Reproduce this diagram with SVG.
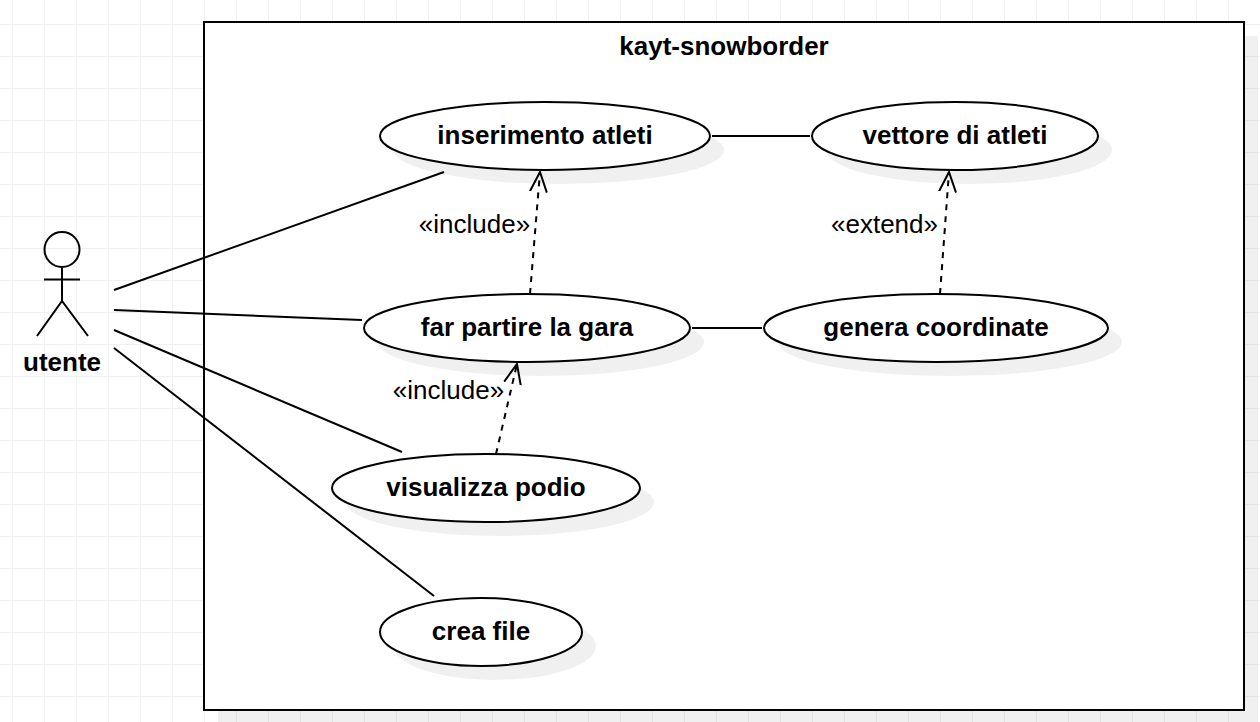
<svg xmlns="http://www.w3.org/2000/svg" width="1260" height="722" viewBox="0 0 1260 722">
  <defs>
    <pattern id="grid" width="32" height="32" patternUnits="userSpaceOnUse" x="12" y="24">
      <path d="M0.5 0V32M0 0.5H32" fill="none" stroke="#f0f0f0" stroke-width="1"/>
    </pattern>
    <marker id="open" markerUnits="userSpaceOnUse" viewBox="0 0 24 24" refX="20" refY="12" markerWidth="24" markerHeight="24" orient="auto">
      <path d="M0 3.500L20 12L0 20.500" fill="none" stroke="#000" stroke-width="2"/>
    </marker>
    <style>
      text { font-family: "Liberation Sans", Arial, sans-serif; fill: #000; text-anchor: middle; }
      .b { font-weight: 700; font-size: 26px; }
      .r { font-size: 26px; }
      .u { fill: #fff; stroke: #000; stroke-width: 2; }
      .s { fill: #000; fill-opacity: 0.06; }
      .c { fill: none; stroke: #000; stroke-width: 2; }
      .d { stroke-dasharray: 6 6; marker-end: url(#open); }
    </style>
  </defs>
  <rect width="1260" height="722" fill="#fff"/>
  <rect width="1260" height="722" fill="url(#grid)"/>
  <g id="boundary">
    <rect class="s" x="218" y="36" width="1040" height="688"/>
    <rect class="u" x="204" y="22" width="1040" height="688"/>
    <text class="b" x="724" y="55">kayt-snowborder</text>
  </g>
  <g id="actor-utente">
    <circle class="c" cx="62" cy="249.500" r="17.500"/>
    <path class="c" d="M62 267V301M44 279.500H80M37 336L62 301L88 336"/>
    <text class="b" x="62" y="371">utente</text>
  </g>
  <g id="uc-inserimento">
    <ellipse class="s" cx="559" cy="150" rx="165" ry="34"/>
    <ellipse class="u" cx="545" cy="136" rx="165" ry="34"/>
    <text class="b" x="545" y="144">inserimento atleti</text>
  </g>
  <g id="uc-vettore">
    <ellipse class="s" cx="969" cy="150" rx="143" ry="34"/>
    <ellipse class="u" cx="955" cy="136" rx="143" ry="34"/>
    <text class="b" x="955" y="144">vettore di atleti</text>
  </g>
  <g id="uc-far-partire">
    <ellipse class="s" cx="541" cy="342" rx="163" ry="34"/>
    <ellipse class="u" cx="527" cy="328" rx="163" ry="34"/>
    <text class="b" x="527" y="336">far partire la gara</text>
  </g>
  <g id="uc-genera">
    <ellipse class="s" cx="950" cy="342" rx="172" ry="34"/>
    <ellipse class="u" cx="936" cy="328" rx="172" ry="34"/>
    <text class="b" x="936" y="336">genera coordinate</text>
  </g>
  <g id="uc-visualizza">
    <ellipse class="s" cx="500" cy="502" rx="154" ry="34"/>
    <ellipse class="u" cx="486" cy="488" rx="154" ry="34"/>
    <text class="b" x="486" y="496">visualizza podio</text>
  </g>
  <g id="uc-crea">
    <ellipse class="s" cx="495" cy="646" rx="101" ry="34"/>
    <ellipse class="u" cx="481" cy="632" rx="101" ry="34"/>
    <text class="b" x="481" y="640">crea file</text>
  </g>
  <g id="connectors">
    <path class="c" d="M114 290L444 172"/>
    <path class="c" d="M114 310L362 320"/>
    <path class="c" d="M114 330L402 452"/>
    <path class="c" d="M114 348L434 596"/>
    <path class="c" d="M712 136H810"/>
    <path class="c" d="M692 328H762"/>
    <path class="c d" d="M530 294L540 172"/>
    <path class="c d" d="M940 294L949 172"/>
    <path class="c d" d="M496 454L517 364"/>
    <text class="r" x="474.500" y="233">«include»</text>
    <text class="r" x="884.500" y="233">«extend»</text>
    <text class="r" x="448.500" y="399">«include»</text>
  </g>
</svg>
